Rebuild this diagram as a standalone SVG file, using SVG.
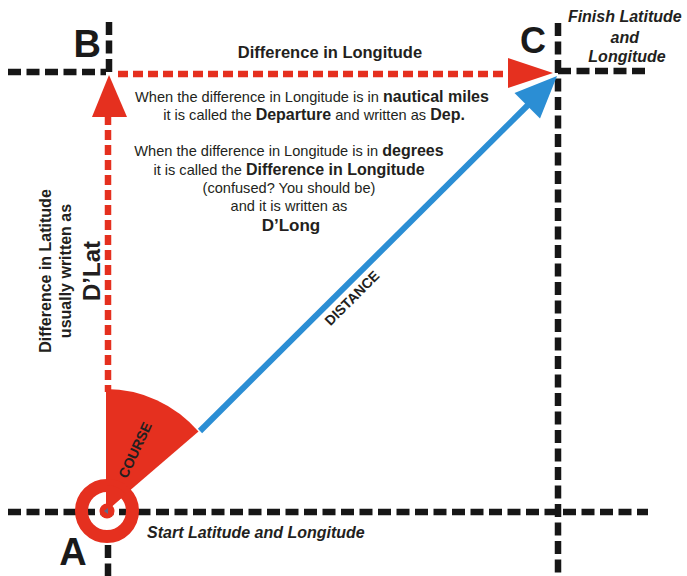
<svg xmlns="http://www.w3.org/2000/svg" width="687" height="576" viewBox="0 0 687 576">
<style>
  .blk{stroke:#161616;stroke-width:6.5;stroke-dasharray:13 5.5;fill:none}
  .red{stroke:#e5301f;stroke-width:6.5;stroke-dasharray:10 5;fill:none}
  .t{font-family:"Liberation Sans",Arial,Helvetica,sans-serif;fill:#231f20}
  .b{font-weight:bold}
  .bi{font-weight:bold;font-style:italic}
  .letter{font-family:"Liberation Sans",Arial,Helvetica,sans-serif;font-weight:bold;fill:#1a1a1a}
</style>
<rect width="687" height="576" fill="#ffffff"/>
<g id="connectors">
  <!-- black latitude/longitude grid lines -->
  <line class="blk" x1="8" y1="72" x2="106" y2="72"/>
  <line class="blk" x1="109" y1="22" x2="109" y2="75"/>
  <line class="blk" x1="558" y1="23" x2="558" y2="576"/>
  <line class="blk" x1="558" y1="71" x2="648" y2="71"/>
  <line class="blk" x1="8" y1="512" x2="648" y2="512"/>
  <line class="blk" x1="108" y1="545" x2="108" y2="576"/>
  <!-- red D'Lat and D'Long lines -->
  <line class="red" x1="118" y1="74" x2="510" y2="74"/>
  <polygon points="553,73 508,58 508,88" fill="#e5301f"/>
  <line class="red" x1="108" y1="115" x2="108" y2="392"/>
  <polygon points="109,75 92,117 127,117" fill="#e5301f"/>
  <!-- blue distance line -->
  <line x1="200" y1="431" x2="530" y2="103" stroke="#2b8ed4" stroke-width="6"/>
  <polygon points="557,76 540,118.5 514.5,93" fill="#2b8ed4"/>
</g>
<g id="course">
  <path d="M106,511 L106,389 A122,122 0 0 1 198.5,431.5 Z" fill="#e5301f"/>
  <text class="t b" font-size="14" text-anchor="middle" transform="translate(135,450) rotate(-65)" y="5">COURSE</text>
</g>
<g id="nodeA">
  <circle cx="107" cy="511" r="25.5" fill="none" stroke="#e5301f" stroke-width="13"/>
  <path d="M107,511 L107,485 A26,26 0 0 1 126,494 Z" fill="#e5301f"/>
  <circle cx="107" cy="511" r="7.5" fill="#e5301f"/>
  <polygon points="104,511 108,508 108,514" fill="#5d6a8a"/>
  <text class="letter" x="73" y="565" font-size="38" text-anchor="middle">A</text>
  <text class="t bi" x="147" y="538" font-size="16">Start Latitude and Longitude</text>
</g>
<g id="nodeB">
  <text class="letter" x="101" y="57" font-size="38" text-anchor="end">B</text>
</g>
<g id="nodeC">
  <text class="letter" x="533" y="53" font-size="36" text-anchor="middle">C</text>
  <text class="t bi" font-size="16" text-anchor="middle">
    <tspan x="627" y="22">Finish Latitude</tspan>
    <tspan x="627" y="43">and</tspan>
    <tspan x="627" y="62">Longitude</tspan>
  </text>
</g>
<g id="labels">
  <text class="t b" x="330" y="58" font-size="16.5" text-anchor="middle">Difference in Longitude</text>
  <text class="t" font-size="14.6" text-anchor="middle">
    <tspan x="314" y="102">When the difference in Longitude is in <tspan class="b" font-size="16">nautical miles</tspan></tspan>
    <tspan x="314" y="120">it is called the <tspan class="b" font-size="16">Departure</tspan> and written as <tspan class="b" font-size="16">Dep.</tspan></tspan>
  </text>
  <text class="t" font-size="14.6" text-anchor="middle">
    <tspan x="291" y="156">When the difference in Longitude is in <tspan class="b" font-size="16">degrees</tspan></tspan>
    <tspan x="291" y="175">it is called the <tspan class="b" font-size="16">Difference in Longitude</tspan></tspan>
    <tspan x="291" y="193">(confused? You should be)</tspan>
    <tspan x="291" y="211">and it is written as</tspan>
    <tspan x="291" y="231" class="b" font-size="17">D’Long</tspan>
  </text>
  <text class="t b" font-size="16" text-anchor="middle" transform="translate(51,271) rotate(-90)">Difference in Latitude</text>
  <text class="t b" font-size="16" text-anchor="middle" transform="translate(71,271) rotate(-90)">usually written as</text>
  <text class="t b" font-size="24" text-anchor="middle" transform="translate(100,271) rotate(-90)">D’Lat</text>
  <text class="t b" font-size="14" text-anchor="middle" transform="translate(352,298) rotate(-45)" y="5">DISTANCE</text>
</g>
</svg>
